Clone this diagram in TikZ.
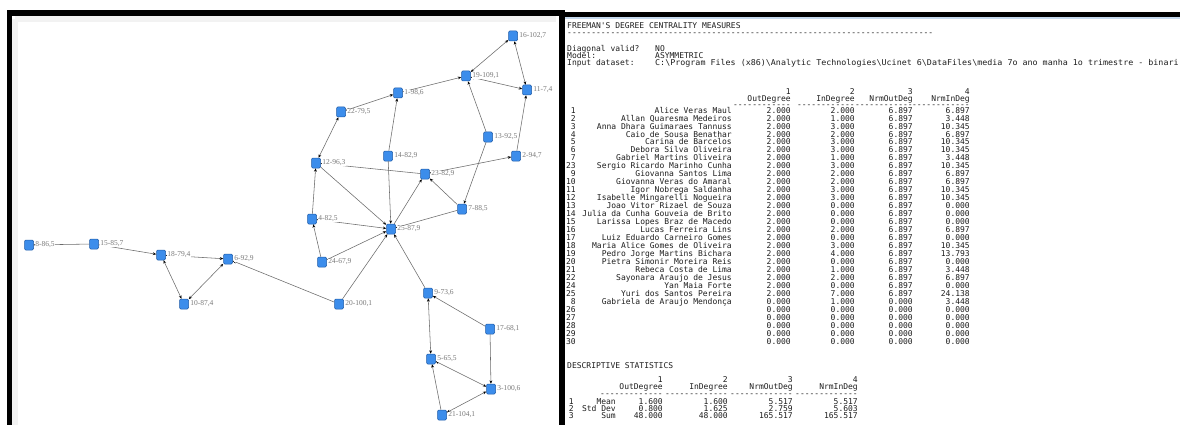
\documentclass[tikz,border=0pt]{standalone}
\usepackage{fontspec}
\setmainfont{Liberation Serif}
\newfontfamily\monofont{DejaVu Sans Mono}
\newfontfamily\labfont{Liberation Serif}
\usetikzlibrary{arrows.meta}
\definecolor{nodeblue}{HTML}{3C8DEB}
\definecolor{nodeedge}{HTML}{1F5CA8}
\definecolor{labgray}{HTML}{7A7A7A}
\definecolor{edgegray}{HTML}{6A6A6A}
\definecolor{txt}{HTML}{1E1E1E}
\definecolor{winblue}{HTML}{C5D9EE}
\tikzset{
  nd/.style={rectangle, rounded corners=1.2pt, minimum width=9pt, minimum height=10pt, inner sep=0pt, fill=nodeblue, draw=nodeedge, line width=0.5pt},
  lb/.style={font=\labfont\fontsize{7.5}{8}\selectfont, text=labgray, anchor=west, inner sep=0.4pt, fill=white},
  tip/.tip={Stealth[length=3.4pt,width=2.8pt,color=black]},
  edge/.style={draw=edgegray, line width=0.55pt, -tip},
  biedge/.style={draw=edgegray, line width=0.55pt, tip-tip},
  mono/.style={font=\monofont\fontsize{8}{8}\selectfont, text=txt, inner sep=0pt, text height=5.8pt, text depth=1.6pt},
  tl/.style={mono, anchor=west},
  tr/.style={mono, anchor=east}
}
\begin{document}
\begin{tikzpicture}[x=1pt,y=-1pt]
\useasboundingbox (0,0) rectangle (1180,425);
% ---------- frames ----------
\fill[white] (0,0) rectangle (1180,425);
\draw[black!5, line width=6pt] (15,19) -- (556,19);
\draw[black!5, line width=6pt] (15,19) -- (15,425);
\fill[black] (7,10) rectangle (565,16);
\fill[black] (7,10) rectangle (12,425);
\fill[black] (559,10) rectangle (565,425);
\fill[black] (565,12) rectangle (1180,17);
\fill[winblue] (565,17) rectangle (1180,19.5);
% ---------- network nodes ----------
\foreach \id/\x/\y in {16/513/36, 19/466/76, 11/527/90, 1/398/93, 22/341/112,
  13/488/137, 2/516/156, 14/388/156, 12/316/163, 23/425/174, 7/462/209,
  4/312/219, 25/391/229, 24/322/262, 20/339/304, 9/428/293, 17/490/329,
  5/431/359, 3/491/389, 21/442/415, 8/29/245, 15/94/244, 18/161/255,
  6/228/259, 10/184/304}
  \node[nd] (n\id) at (\x,\y) {};
% ---------- edges ----------
\draw[edge] (n15) -- (n8);
\draw[edge] (n15) -- (n18);
\draw[biedge] (n18) -- (n10);
\draw[biedge] (n18) -- (n6);
\draw[biedge] (n10) -- (n6);
\draw[edge] (n20) -- (n6);
\draw[edge] (n20) -- (n25);
\draw[edge] (n12) -- (n25);
\draw[edge] (n14) -- (n25);
\draw[edge] (n14) -- (n1);
\draw[biedge] (n4) -- (n25);
\draw[edge] (n24) -- (n25);
\draw[edge] (n24) -- (n4);
\draw[edge] (n4) -- (n12);
\draw[edge] (n7) -- (n25);
\draw[edge] (n9) -- (n25);
\draw[edge] (n25) -- (n23);
\draw[edge] (n7) -- (n23);
\draw[edge] (n13) -- (n7);
\draw[edge] (n13) -- (n19);
\draw[edge] (n23) -- (n12);
\draw[biedge] (n12) -- (n22);
\draw[biedge] (n22) -- (n1);
\draw[edge] (n1) -- (n19);
\draw[biedge] (n23) -- (n2);
\draw[edge] (n2) -- (n11);
\draw[biedge] (n19) -- (n16);
\draw[biedge] (n19) -- (n11);
\draw[biedge] (n16) -- (n11);
\draw[edge] (n17) -- (n9);
\draw[edge] (n17) -- (n3);
\draw[biedge] (n9) -- (n5);
\draw[biedge] (n5) -- (n3);
\draw[edge] (n21) -- (n5);
\draw[biedge] (n21) -- (n3);
% ---------- labels ----------
\foreach \id/\t in {16/{16-102,7}, 19/{19-109,1}, 11/{11-7,4}, 1/{1-98,6}, 22/{22-79,5},
  13/{13-92,5}, 2/{2-94,7}, 14/{14-82,9}, 12/{12-96,3}, 23/{23-82,9}, 7/{7-88,5},
  4/{4-82,5}, 25/{25-87,9}, 24/{24-67,9}, 20/{20-100,1}, 9/{9-73,6}, 17/{17-68,1},
  5/{5-65,5}, 3/{3-100,6}, 21/{21-104,1}, 8/{8-86,5}, 15/{15-85,7}, 18/{18-79,4},
  6/{6-92,9}, 10/{10-87,4}}
  \node[lb] (l\id) at ([xshift=1pt]n\id.east) {\t};
% ---------- console text ----------
\node[tl] (h1) at (567,26) {FREEMAN'S DEGREE CENTRALITY MEASURES};
\node[tl] (h2) at (567,33) {----------------------------------------------------------------------------};
\node[tl] (h3) at (567,49) {Diagonal valid?};
\node[tl] (h4) at (567,56) {Model:};
\node[tl] (h5) at (567,63) {Input dataset:};
\node[tl] (v3) at (655,49) {NO};
\node[tl] (v4) at (655,56) {ASYMMETRIC};
\node[tl] (v5) at (655,63) {\scalebox{1.045}[1]{C:\textbackslash Program Files (x86)\textbackslash Analytic Technologies\textbackslash Ucinet 6\textbackslash DataFiles\textbackslash media 7o ano manha 1o trimestre - binari}};
% column headers
\foreach \c/\xx/\nm in {1/791/OutDegree, 2/855/InDegree, 3/913/NrmOutDeg, 4/970/NrmInDeg}{
  \node[tr] (ch\c) at (\xx,92) {\c};
  \node[tr] (cn\c) at (\xx,99) {\nm};
  \node[tr] (cd\c) at (\xx,105) {------------};
}
\foreach \r/\nm/\a/\b/\c/\d [count=\i from 0] in {
  1/Alice Veras Maul/2.000/2.000/6.897/6.897,
  2/Allan Quaresma Medeiros/2.000/1.000/6.897/3.448,
  3/Anna Dhara Guimaraes Tannuss/2.000/3.000/6.897/10.345,
  4/Caio de Sousa Benathar/2.000/2.000/6.897/6.897,
  5/Carina de Barcelos/2.000/3.000/6.897/10.345,
  6/Debora Silva Oliveira/2.000/3.000/6.897/10.345,
  7/Gabriel Martins Oliveira/2.000/1.000/6.897/3.448,
  23/Sergio Ricardo Marinho Cunha/2.000/3.000/6.897/10.345,
  9/Giovanna Santos Lima/2.000/2.000/6.897/6.897,
  10/Giovanna Veras do Amaral/2.000/2.000/6.897/6.897,
  11/Igor Nobrega Saldanha/2.000/3.000/6.897/10.345,
  12/Isabelle Mingarelli Nogueira/2.000/3.000/6.897/10.345,
  13/Joao Vitor Rizael de Souza/2.000/0.000/6.897/0.000,
  14/Julia da Cunha Gouveia de Brito/2.000/0.000/6.897/0.000,
  15/Larissa Lopes Braz de Macedo/2.000/0.000/6.897/0.000,
  16/Lucas Ferreira Lins/2.000/2.000/6.897/6.897,
  17/Luiz Eduardo Carneiro Gomes/2.000/0.000/6.897/0.000,
  18/Maria Alice Gomes de Oliveira/2.000/3.000/6.897/10.345,
  19/Pedro Jorge Martins Bichara/2.000/4.000/6.897/13.793,
  20/Pietra Simonir Moreira Reis/2.000/0.000/6.897/0.000,
  21/Rebeca Costa de Lima/2.000/1.000/6.897/3.448,
  22/Sayonara Araujo de Jesus/2.000/2.000/6.897/6.897,
  24/Yan Maia Forte/2.000/0.000/6.897/0.000,
  25/Yuri dos Santos Pereira/2.000/7.000/6.897/24.138,
  8/Gabriela de Araujo Mendonça/0.000/1.000/0.000/3.448,
  26//0.000/0.000/0.000/0.000,
  27//0.000/0.000/0.000/0.000,
  28//0.000/0.000/0.000/0.000,
  29//0.000/0.000/0.000/0.000,
  30//0.000/0.000/0.000/0.000}{
  \pgfmathsetmacro{\yy}{111+\i*7.97}
  \node[tr] (rn\i) at (576,\yy) {\r};
  \node[tr] (rl\i) at (732,\yy) {\nm};
  \node[tr] (ra\i) at (791,\yy) {\a};
  \node[tr] (rb\i) at (855,\yy) {\b};
  \node[tr] (rc\i) at (913,\yy) {\c};
  \node[tr] (rd\i) at (970,\yy) {\d};
}
% descriptive statistics
\node[tl] (ds) at (567,366) {DESCRIPTIVE STATISTICS};
\foreach \c/\xx/\nm in {1/663/OutDegree, 2/728/InDegree, 3/793/NrmOutDeg, 4/858/NrmInDeg}{
  \node[tr] (sh\c) at (\xx,380) {\c};
  \node[tr] (sn\c) at (\xx,387) {\nm};
  \node[tr] (sd\c) at (\xx,394) {-------------};
}
\foreach \r/\nm/\a/\b/\c/\d [count=\i from 0] in {
  1/Mean/1.600/1.600/5.517/5.517,
  2/Std Dev/0.800/1.625/2.759/5.603,
  3/Sum/48.000/48.000/165.517/165.517}{
  \pgfmathsetmacro{\yy}{402+\i*7.2}
  \node[tr] (sr\i) at (574,\yy) {\r};
  \node[tr] (sl\i) at (616,\yy) {\nm};
  \node[tr] (sa\i) at (663,\yy) {\a};
  \node[tr] (sb\i) at (728,\yy) {\b};
  \node[tr] (sc\i) at (793,\yy) {\c};
  \node[tr] (se\i) at (858,\yy) {\d};
}
\end{tikzpicture}
\end{document}
